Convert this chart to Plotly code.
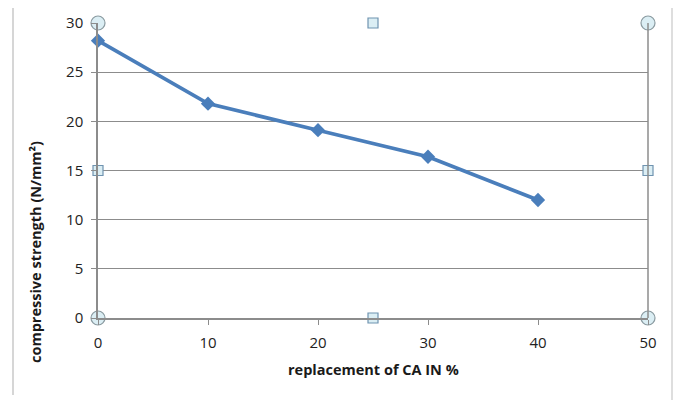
import plotly.graph_objects as go

replacement = [0, 10, 20, 30, 40]
strength = [28.2, 21.8, 19.1, 16.4, 12.0]

x_ticks = [0, 10, 20, 30, 40, 50]
y_ticks = [0, 5, 10, 15, 20, 25, 30]

# Excel plot-area selection handles
handle_circle_x = [0, 50, 0, 50]
handle_circle_y = [0, 0, 30, 30]
handle_square_x = [25, 25, 0, 50]
handle_square_y = [0, 30, 15, 15]

FONT = "Open Sans"
GRID = "#8c8c8c"

# page body has an 8px offset; plot area should land at x 98..648, y 23..318
OFF = 8
W, H = 686 - OFF, 400 - OFF
L, T = 98 - OFF, 23 - OFF
PW, PH = 550, 295


def px(x):
    return (x - 98) / PW


def py(y):
    return (318 - y) / PH


fig = go.Figure()
fig.add_trace(go.Scatter(
    x=replacement, y=strength, mode="lines+markers",
    line=dict(color="#4a7ebb", width=3.7),
    marker=dict(symbol="diamond", size=11, color="#4a7ebb"),
    showlegend=False, hoverinfo="skip", cliponaxis=False,
))
fig.add_trace(go.Scatter(
    x=handle_circle_x, y=handle_circle_y, mode="markers",
    marker=dict(symbol="circle", size=14, color="#dbeef4",
                line=dict(color="#8a9aa0", width=1.2)),
    showlegend=False, hoverinfo="skip", cliponaxis=False,
))
fig.add_trace(go.Scatter(
    x=handle_square_x, y=handle_square_y, mode="markers",
    marker=dict(symbol="square", size=10, color="#dbeef4",
                line=dict(color="#6f93b0", width=1.2)),
    showlegend=False, hoverinfo="skip", cliponaxis=False,
))

fig.update_layout(
    width=W, height=H,
    margin=dict(l=L, r=W - L - PW, t=T, b=H - T - PH, autoexpand=False),
    paper_bgcolor="white", plot_bgcolor="white",
    font=dict(family=FONT, size=15, color="#222222"),
    xaxis=dict(range=[0, 50], tickvals=x_ticks, showgrid=False,
               showline=True, linecolor=GRID, linewidth=1.5,
               ticks="outside", ticklen=5, tickcolor=GRID,
               ticklabelstandoff=5, automargin=False,
               zeroline=False, fixedrange=True, mirror=False),
    yaxis=dict(range=[0, 30], tickvals=y_ticks, showgrid=True,
               gridcolor=GRID, gridwidth=1.2,
               showline=True, linecolor=GRID, linewidth=1.5,
               ticks="outside", ticklen=5, tickcolor=GRID,
               ticklabelstandoff=5, automargin=False,
               zeroline=False, fixedrange=True),
    shapes=[
        # right border of plot area
        dict(type="line", xref="paper", yref="paper", x0=1, x1=1, y0=0, y1=1,
             line=dict(color=GRID, width=1.5)),
        # left chart frame
        dict(type="line", xref="paper", yref="paper", x0=px(13), x1=px(13),
             y0=py(395), y1=py(6),
             line=dict(color="#c8c8c8", width=1.5)),
        # right frame bracket
        dict(type="line", xref="paper", yref="paper", x0=px(672), x1=px(672),
             y0=py(400), y1=py(8),
             line=dict(color="#c8c8c8", width=1.2)),
        dict(type="line", xref="paper", yref="paper", x0=px(679), x1=px(679),
             y0=py(400), y1=py(8),
             line=dict(color="#cfe6ee", width=1.2)),
    ],
    annotations=[
        dict(text="<b>replacement of CA IN %</b>", xref="paper", yref="paper",
             x=px(373), y=py(370), showarrow=False,
             font=dict(family=FONT, size=14.5, color="#1a1a1a"),
             xanchor="center", yanchor="middle"),
        dict(text="<b>compressive strength (N/mm²)</b>", xref="paper", yref="paper",
             x=px(35), y=py(252), showarrow=False, textangle=-90,
             font=dict(family=FONT, size=14.5, color="#1a1a1a"),
             xanchor="center", yanchor="middle"),
    ],
)

fig.write_html("out.html")
